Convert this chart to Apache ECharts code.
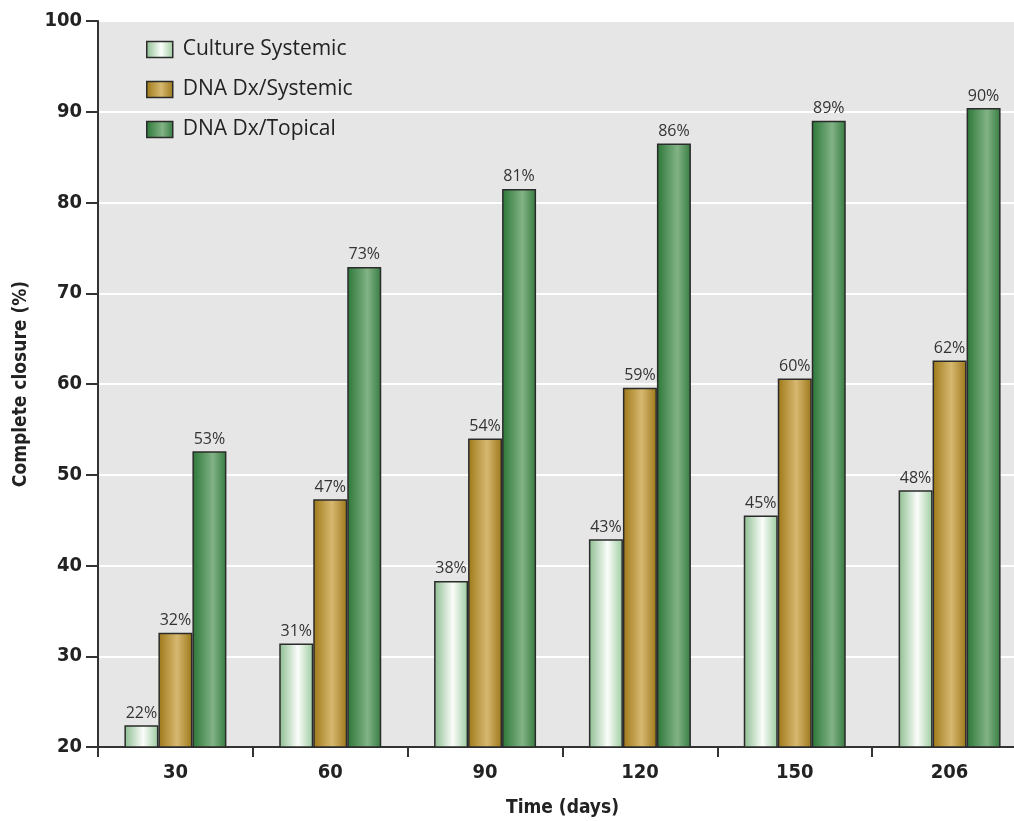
<!DOCTYPE html>
<html>
<head>
<meta charset="utf-8">
<script src="https://cdn.jsdelivr.net/npm/echarts@6/dist/echarts.min.js"></script>
<style>html,body{margin:0;padding:0;background:#fff;}#c{width:1014px;height:821px;}</style>
</head>
<body>
<div id="c"></div>
<script>
var categories = ['30', '60', '90', '120', '150', '206'];
var seriesNames = ['Culture Systemic', 'DNA Dx/Systemic', 'DNA Dx/Topical'];
var cultureSystemic = [22.4, 31.4, 38.3, 42.9, 45.5, 48.3];
var dnaSystemic = [32.6, 47.3, 54.0, 59.6, 60.6, 62.6];
var dnaTopical = [52.6, 72.9, 81.5, 86.5, 89.0, 90.4];
var cultureLabels = ['22%', '31%', '38%', '43%', '45%', '48%'];
var systemicLabels = ['32%', '47%', '54%', '59%', '60%', '62%'];
var topicalLabels = ['53%', '73%', '81%', '86%', '89%', '90%'];
var yTicks = [20, 30, 40, 50, 60, 70, 80, 90, 100];

var boldFont = "'Liberation Sans Narrow', 'DejaVu Sans Condensed', 'Liberation Sans', sans-serif";
var textFont = "'Open Sans', 'Noto Sans', sans-serif";

function grad(stops) {
  return new echarts.graphic.LinearGradient(0, 0, 1, 0, stops);
}
var fills = [
  grad([{offset: 0, color: '#8cbd90'}, {offset: 0.55, color: '#fbfdfa'}, {offset: 1, color: '#9ccb9e'}]),
  grad([{offset: 0, color: '#9e7818'}, {offset: 0.55, color: '#d6b870'}, {offset: 1, color: '#9c7719'}]),
  grad([{offset: 0, color: '#2b7737'}, {offset: 0.6, color: '#82b286'}, {offset: 1, color: '#357c40'}])
];
var seriesData = [cultureSystemic, dnaSystemic, dnaTopical];
var labelData = [cultureLabels, systemicLabels, topicalLabels];

var series = seriesData.map(function (d, i) {
  return {
    name: seriesNames[i],
    type: 'bar',
    data: d,
    barWidth: 34,
    barGap: '0%',
    itemStyle: {color: fills[i], borderColor: '#2b2b2b', borderWidth: 1.5},
    label: {
      show: true,
      position: 'top',
      distance: 4,
      fontFamily: textFont,
      fontSize: 16,
      color: '#333',
      formatter: function (p) { return labelData[i][p.dataIndex]; }
    }
  };
});

var chart = echarts.init(document.getElementById('c'), null, {renderer: 'canvas'});
chart.setOption({
  animation: false,
  backgroundColor: '#fff',
  grid: {left: 98, right: -13, top: 21, bottom: 74, outerBoundsMode: 'none', containLabel: false, show: true, backgroundColor: '#e6e6e6', borderWidth: 0},
  legend: {
    orient: 'vertical',
    left: 146,
    top: 39,
    padding: 0,
    itemWidth: 26,
    itemHeight: 16,
    itemGap: 19,
    icon: 'rect',
    data: seriesNames,
    itemStyle: {borderColor: '#2b2b2b', borderWidth: 1.5},
    textStyle: {fontFamily: textFont, fontSize: 21, lineHeight: 16, height: 16, color: '#222', padding: [0, 0, 0, 5]}
  },
  xAxis: {
    type: 'category',
    data: categories,
    name: 'Time (days)',
    nameLocation: 'middle',
    nameGap: 52,
    nameTextStyle: {fontFamily: boldFont, fontWeight: 'bold', fontSize: 19, color: '#222'},
    axisLine: {lineStyle: {color: '#333', width: 2}},
    axisTick: {show: true, length: 10, lineStyle: {color: '#333', width: 2}},
    axisLabel: {fontFamily: boldFont, fontWeight: 'bold', fontSize: 20, color: '#222', margin: 16},
    splitLine: {show: false}
  },
  yAxis: {
    type: 'value',
    min: yTicks[0],
    max: yTicks[yTicks.length - 1],
    interval: 10,
    name: 'Complete closure (%)',
    nameLocation: 'middle',
    nameGap: 67,
    nameRotate: 90,
    nameTextStyle: {fontFamily: boldFont, fontWeight: 'bold', fontSize: 19, color: '#222'},
    axisLine: {show: true, lineStyle: {color: '#333', width: 2}},
    axisTick: {show: true, length: 12, lineStyle: {color: '#333', width: 2}},
    axisLabel: {fontFamily: boldFont, fontWeight: 'bold', fontSize: 20, color: '#222', margin: 16},
    splitLine: {show: true, lineStyle: {color: '#ffffff', width: 2}}
  },
  series: series
});
</script>
</body>
</html>
